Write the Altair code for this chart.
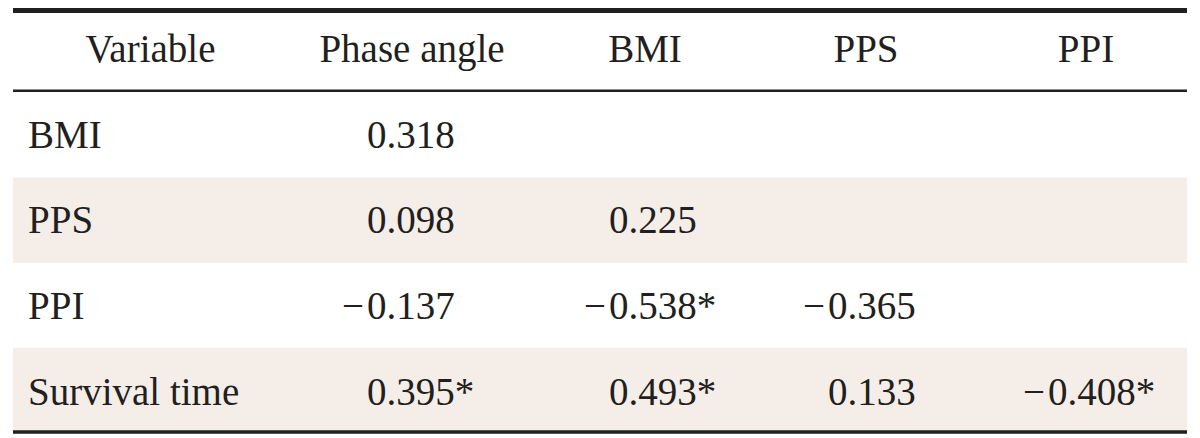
import altair as alt
import pandas as pd

# ---- table content ----
header_cols = ["Variable", "Phase angle", "BMI", "PPS", "PPI"]
row_labels = ["BMI", "PPS", "PPI", "Survival time"]
phase_angle = [0.318, 0.098, -0.137, 0.395]
bmi = [None, 0.225, -0.538, 0.493]
pps = [None, None, -0.365, 0.133]
ppi = [None, None, None, -0.408]
phase_sig = [False, False, False, True]
bmi_sig = [False, False, True, True]
pps_sig = [False, False, False, False]
ppi_sig = [False, False, False, True]
shaded_rows = ["PPS", "Survival time"]

FONT = "Liberation Serif"
FS = 39
INK = "#231F20"
SHADE = "#F5EEE8"

row_keys = ["header"] + row_labels

# header data
hdr = pd.DataFrame({"ci": list(range(len(header_cols))), "text": header_cols, "row": "header"})
# row label data
lab = pd.DataFrame({"row": row_labels, "text": row_labels})
# numeric cells
cells = []
for ci, (vals, sigs) in enumerate([(phase_angle, phase_sig), (bmi, bmi_sig), (pps, pps_sig), (ppi, ppi_sig)], start=1):
    for r, v, s in zip(row_labels, vals, sigs):
        if v is None:
            continue
        cells.append({"ci": ci, "row": r,
                      "body": f"{abs(v):.3f}" + ("*" if s else ""),
                      "sign": "\u2212" if v < 0 else ""})
cells = pd.DataFrame(cells)
shade = pd.DataFrame({"row": shaded_rows})

y_text = alt.Y("row:N", scale=alt.Scale(type="point", domain=row_keys, range=[54, 396.5], padding=0), axis=None)
x_hdr = alt.X("ci:Q", scale=alt.Scale(domain=[0, 1, 2, 3, 4], range=[142.5, 404, 637, 858, 1078]), axis=None)
x_num = alt.X("ci:Q", scale=alt.Scale(domain=[1, 2, 3, 4], range=[359, 601, 820, 1040]), axis=None)

bg = alt.Chart(shade).mark_rect(color=SHADE).encode(
    y=alt.Y("row:N", scale=alt.Scale(type="band", domain=row_labels, range=[84.3, 425], paddingInner=0, paddingOuter=0), axis=None),
    x=alt.value(5), x2=alt.value(1179),
)

one = pd.DataFrame({"k": [0]})
top_rule = alt.Chart(one).mark_rule(color=INK, strokeWidth=5).encode(x=alt.value(5), x2=alt.value(1179), y=alt.value(2.5))
mid_rule = alt.Chart(one).mark_rule(color=INK, strokeWidth=2.5).encode(x=alt.value(5), x2=alt.value(1179), y=alt.value(82.8))
bot_rule = alt.Chart(one).mark_rule(color=INK, strokeWidth=3.5).encode(x=alt.value(5), x2=alt.value(1179), y=alt.value(424))

txt = dict(font=FONT, fontSize=FS, color=INK, baseline="alphabetic")

hdr_text = alt.Chart(hdr).mark_text(align="center", **txt).encode(x=x_hdr, y=y_text, text="text:N")
lab_text = alt.Chart(lab).mark_text(align="left", **txt).encode(x=alt.value(20), y=y_text, text="text:N")
num_text = alt.Chart(cells).mark_text(align="left", **txt).encode(x=x_num, y=y_text, text="body:N")
sign_text = alt.Chart(cells).transform_filter("datum.sign != ''").mark_text(align="right", dx=-3, **txt).encode(
    x=x_num, y=y_text, text="sign:N")

chart = alt.layer(bg, top_rule, mid_rule, bot_rule, hdr_text, lab_text, num_text, sign_text).resolve_scale(
    x="independent", y="independent"
).properties(
    width=1184, height=430, padding=0, autosize=alt.AutoSizeParams(type="none"), background="white"
).configure_view(stroke=None)

chart.save("out.html", embed_options={"renderer": "svg", "actions": False})
